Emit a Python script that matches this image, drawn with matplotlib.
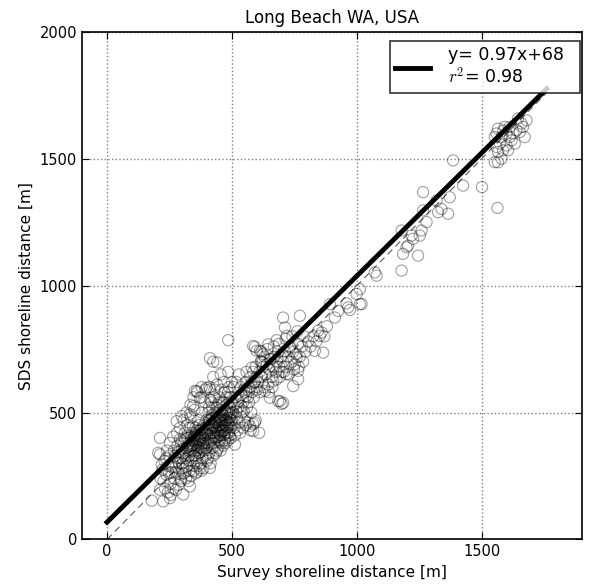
import matplotlib
matplotlib.use('Agg')
import matplotlib.pyplot as plt
import numpy as np

# survey (x) vs SDS (y) shoreline distance
pts = [
    # lower left tail
    (179,153),(225,150),(252,163),(305,177),(332,209),(212,196),(205,341),(219,295),
    (412,282),(379,271),(359,266),(212,400),(212,335),(279,466),(292,440),(299,486),
    (359,585),(372,558),(399,598),(412,591),(345,525),(332,493),(352,585),(379,600),
    (412,714),(425,700),(441,697),(485,785),(512,374),
    # x 200-300
    (215,240),(222,275),(230,310),(238,255),(245,290),(250,330),(255,220),(258,265),
    (262,305),(268,350),(270,240),(275,285),(278,320),(282,370),(285,260),(288,300),
    (290,345),(295,230),(298,280),(300,390),(232,200),(244,185),(256,175),(266,200),
    (276,195),(286,215),(296,240),(240,350),(252,380),(265,405),(280,420),(292,395),
    (226,230),(236,320),(248,260),(272,330),(284,345),(294,320),(260,285),(274,265),
    # x 300-400
    (302,300),(305,340),(308,380),(310,260),(312,420),(315,320),(318,360),(320,290),
    (322,450),(325,400),(328,330),(330,270),(332,370),(335,480),(338,310),(340,420),
    (342,350),(345,390),(348,290),(350,510),(352,330),(355,440),(358,370),(360,300),
    (362,410),(365,470),(368,340),(370,390),(372,280),(375,430),(378,360),(380,500),
    (382,320),(385,400),(388,450),(390,350),(392,540),(395,380),(398,420),(400,310),
    (304,260),(316,240),(326,230),(336,250),(346,270),(356,260),(366,290),(376,300),
    (386,280),(396,330),(306,470),(318,500),(334,530),(346,560),(362,580),(378,560),
    (394,590),(312,395),(324,365),(336,405),(344,445),(354,395),(364,365),(374,415),
    (384,355),(394,440),(300,355),(310,330),(320,400),(330,440),(340,380),(350,360),
    (360,430),(370,450),(380,420),(390,390),(398,470),(315,285),(335,345),(355,320),
    (375,345),(395,360),(325,310),(345,330),(365,395),(385,380),(352,410),
    (333,355),(343,372),(357,348),(367,378),(377,392),(387,368),(362,352),(372,405),
    (382,438),(392,410),(348,402),(358,418),(368,428),(378,376),(338,392),(328,378),
    # x 400-500
    (402,380),(404,440),(406,500),(408,340),(410,410),(412,470),(414,550),(416,390),
    (418,450),(420,360),(422,520),(424,420),(426,480),(428,380),(430,590),(432,440),
    (434,500),(436,400),(438,460),(440,350),(442,530),(444,420),(446,480),(448,390),
    (450,560),(452,450),(454,510),(456,410),(458,470),(460,380),(462,540),(464,430),
    (466,490),(468,620),(470,450),(472,510),(474,400),(476,470),(478,530),(480,440),
    (482,500),(484,580),(486,460),(488,420),(490,520),(492,480),(494,560),(496,440),
    (498,500),(500,470),(405,320),(415,300),(425,330),(435,340),(445,360),(455,350),
    (465,370),(475,380),(485,390),(495,400),(410,600),(425,640),(440,610),(455,650),
    (470,580),(485,660),(500,620),(420,490),(430,420),(440,470),(450,430),(460,500),
    (470,390),(480,470),(490,450),(408,520),(418,540),(428,560),(438,520),(448,540),
    (458,590),(468,540),(478,560),(488,600),(498,540),(412,430),(422,400),(432,460),
    (442,440),(452,410),(462,460),(472,430),(482,420),(492,410),(407,470),(417,420),
    (427,450),(437,430),(447,450),(457,440),(467,410),(477,450),(487,480),(497,470),
    (403,415),(413,395),(423,445),(433,475),(443,405),(453,485),(463,445),(473,465),
    (483,445),(493,495),(409,455),(419,475),(429,405),(439,495),(449,465),(459,425),
    (469,475),(479,495),(489,505),(499,455),(411,375),(431,365),(451,385),(471,415),
    # x 500-600
    (505,500),(510,440),(515,560),(520,480),(525,520),(530,460),(535,600),(540,500),
    (545,540),(550,470),(555,620),(560,520),(565,560),(570,600),(575,640),(580,580),
    (585,660),(590,620),(595,680),(600,640),(508,600),(518,620),(528,650),(538,570),
    (548,590),(558,660),(568,540),(578,500),(588,560),(598,600),(512,410),(522,430),
    (532,420),(545,440),(555,450),(565,460),(575,430),(585,455),(595,470),(600,590),
    (572,446),(592,461),(609,420),(585,427),(592,758),(612,743),(579,677),(585,762),
    (507,530),(517,505),(527,545),(537,525),(547,505),(557,565),(567,585),(577,615),
    # x 600-700
    (605,620),(610,660),(615,700),(620,640),(625,680),(630,720),(635,650),(640,690),
    (645,610),(650,670),(655,710),(660,640),(665,680),(670,720),(675,660),(680,700),
    (685,740),(690,680),(695,720),(700,660),(612,580),(628,600),(648,580),(662,600),
    (678,630),(692,640),(618,740),(642,750),(668,760),(688,770),(645,769),(679,785),
    (623,697),(599,743),(625,730),(619,703),(652,710),(632,585),(652,558),(665,624),
    (685,545),(692,545),(699,534),(705,538),
    # x 700-1000
    (705,700),(712,740),(718,680),(725,720),(732,760),(738,700),(745,740),(752,690),
    (758,730),(765,770),(772,720),(780,760),(788,800),(795,740),(708,660),(728,650),
    (748,670),(768,680),(785,700),(715,790),(742,800),(762,820),(705,874),(712,835),
    (719,802),(772,881),(832,743),(865,736),(765,664),(745,604),(765,631),(719,651),
    (732,756),(759,716),(805,780),(815,760),(825,800),(838,780),(845,822),(852,802),
    (859,815),(870,800),(880,840),(892,927),(912,874),(925,900),(958,930),(965,914),
    (972,904),(999,967),(1012,986),(1012,927),(1019,927),
    # x 1000-1500
    (1072,1052),(1079,1039),(1179,1059),(1185,1125),(1245,1118),(1199,1151),(1205,1157),
    (1179,1217),(1219,1197),(1225,1184),(1252,1197),(1259,1217),(1279,1250),(1265,1296),
    (1265,1368),(1319,1335),(1339,1302),(1325,1289),(1365,1283),(1372,1348),(1385,1493),
    (1425,1394),(1501,1388),(1563,1306),
    # cluster near 1600
    (1645,1658),(1665,1625),(1672,1585),(1639,1612),(1612,1625),(1592,1625),(1565,1618),
    (1559,1599),(1552,1585),(1579,1585),(1599,1599),(1619,1572),(1632,1559),(1599,1552),
    (1572,1559),(1559,1546),(1565,1526),(1585,1533),(1605,1533),(1552,1486),(1565,1486),
    (1579,1500),(1625,1599),(1652,1605),(1659,1638),(1679,1651),(1612,1585),(1586,1610),
]
survey = np.array([p[0] for p in pts])
sds = np.array([p[1] for p in pts])

slope, intercept, r2 = 0.97, 68, 0.98
line_x = np.array([0, 1760])

plt.rcParams['mathtext.fontset'] = 'cm'
fig = plt.figure(figsize=(5.9, 5.87), dpi=100)
ax = fig.add_axes([0.139, 0.081, 0.847, 0.865])

ax.plot(line_x, line_x, '--', color='0.35', lw=0.8, dashes=(6, 4), zorder=1)
ax.scatter(survey, sds, s=65, facecolors='none', edgecolors='k',
           linewidths=0.8, alpha=0.38, zorder=2)
ax.plot(line_x, slope*line_x + intercept, 'k-', lw=3.5, zorder=3,
        label='y= %.2fx+%d  \n$r^2$= %.2f' % (slope, intercept, r2))

ax.set_xlim(-100, 1900)
ax.set_ylim(0, 2000)
ax.set_xticks([0, 500, 1000, 1500])
ax.set_yticks([0, 500, 1000, 1500, 2000])
ax.tick_params(direction='in', top=True, right=True, labelsize=10.5, length=5)
ax.grid(True, ls=':', color='gray', lw=1)
for s in ax.spines.values():
    s.set_linewidth(1.2)

ax.set_xlabel('Survey shoreline distance [m]', fontsize=11)
ax.set_ylabel('SDS shoreline distance [m]', fontsize=11)
ax.set_title('Long Beach WA, USA', fontsize=12)
leg = ax.legend(loc='upper right', bbox_to_anchor=(0.996, 0.982), borderaxespad=0,
                fontsize=12.5, fancybox=False, handlelength=2.0,
                handletextpad=1.0, borderpad=0.3)
leg.get_frame().set_edgecolor('k')
leg.get_frame().set_linewidth(1.2)

fig.savefig('out.png', dpi=100)
